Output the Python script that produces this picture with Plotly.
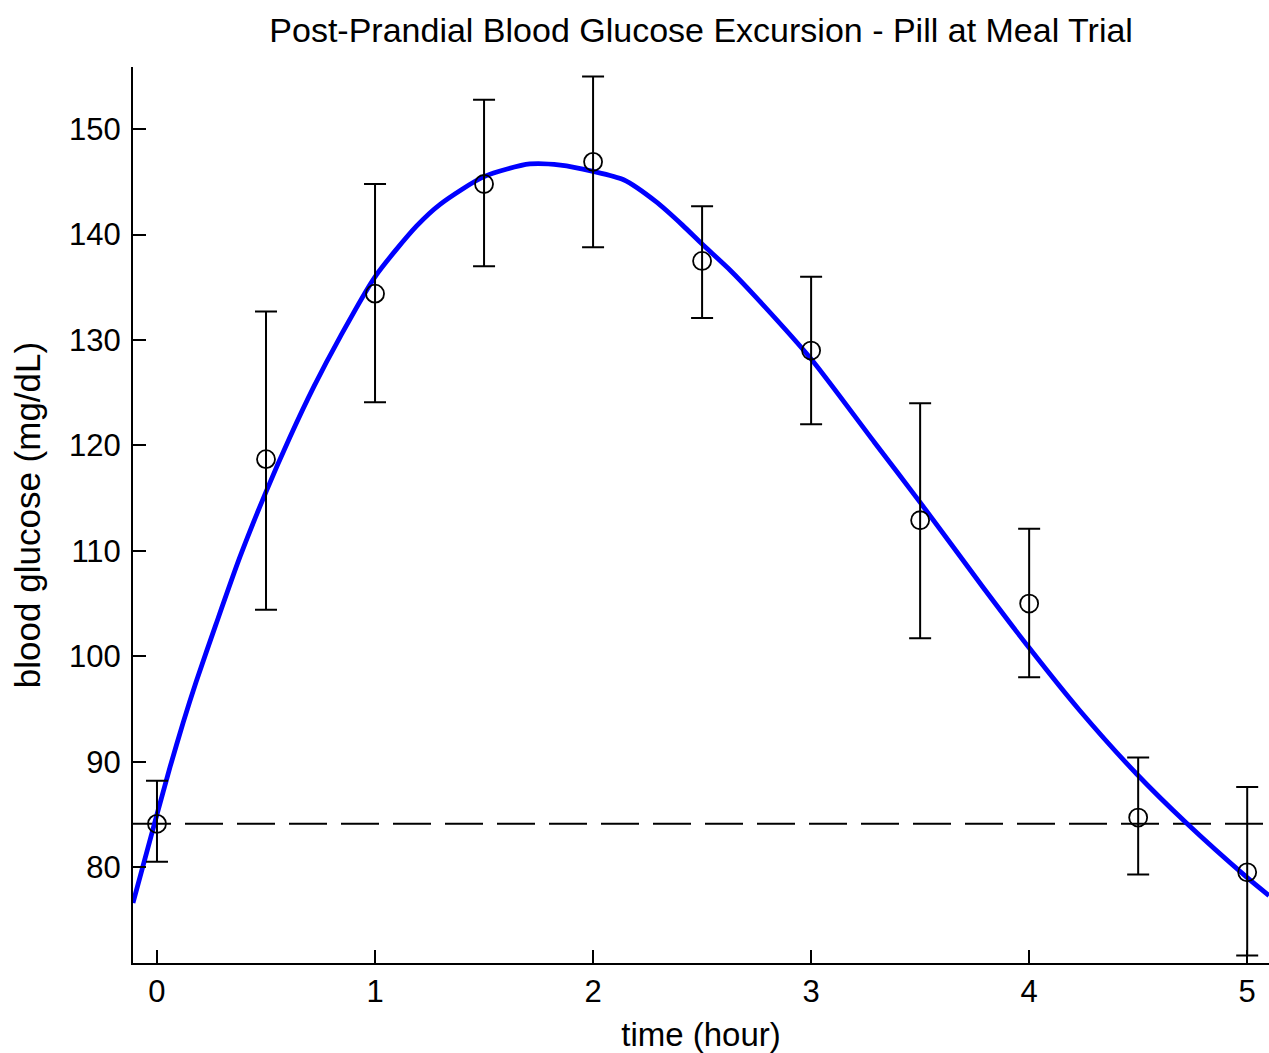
import plotly.graph_objects as go

# measured points (mean +/- error bar ends)
time_h = [0, 0.5, 1, 1.5, 2, 2.5, 3, 3.5, 4, 4.5, 5]
glucose_mean = [84.1, 118.7, 134.4, 144.8, 146.9, 137.5, 129.0, 112.9, 105.0, 84.7, 79.5]
glucose_hi = [88.2, 132.7, 144.8, 152.8, 155.0, 142.7, 136.0, 124.0, 112.1, 90.4, 87.6]
glucose_lo = [80.5, 104.4, 124.1, 137.0, 138.8, 132.1, 122.0, 101.7, 98.0, 79.3, 71.6]

# fitted model curve
fit_t = [-0.11, 0.0, 0.06, 0.12, 0.18, 0.27, 0.38, 0.5, 0.61, 0.72, 0.84, 1.0, 1.19,
         1.3, 1.5, 1.71, 1.85, 2.0, 2.14, 2.29, 2.41, 2.5, 2.63, 2.75, 3.0, 3.29, 3.5,
         3.79, 4.0, 4.23, 4.49, 4.72, 5.0, 5.1]
fit_glucose = [76.6, 85.0, 89.5, 93.7, 97.6, 103.0, 109.4, 115.6, 120.8, 125.6, 130.3,
               136.0, 140.8, 142.9, 145.5, 146.7, 146.6, 146.0, 145.2, 143.1, 140.9,
               139.1, 136.6, 134.0, 128.2, 120.3, 114.6, 106.5, 100.8, 94.9, 88.9,
               84.2, 79.0, 77.3]

baseline = glucose_mean[0]

x_ticks = [0, 1, 2, 3, 4, 5]
y_ticks = [80, 90, 100, 110, 120, 130, 140, 150]

err_plus = [h - m for h, m in zip(glucose_hi, glucose_mean)]
err_minus = [m - l for m, l in zip(glucose_mean, glucose_lo)]

fig = go.Figure()

fig.add_shape(type="line", xref="paper", x0=0, x1=1, yref="y", y0=baseline, y1=baseline,
              line=dict(color="black", width=2, dash="38px,14px"), layer="below")

fig.add_trace(go.Scatter(
    x=fit_t, y=fit_glucose, mode="lines",
    line=dict(color="#0000ff", width=4.8, shape="spline", smoothing=0.7),
    hoverinfo="skip",
))

fig.add_trace(go.Scatter(
    x=time_h, y=glucose_mean, mode="markers",
    marker=dict(symbol="circle-open", size=18, color="black", line=dict(width=1.8)),
    error_y=dict(type="data", symmetric=False, array=err_plus, arrayminus=err_minus,
                 color="black", thickness=2, width=11),
))

fig.update_layout(
    width=1269, height=1053,
    margin=dict(l=133, r=0, t=67, b=90, autoexpand=False),
    paper_bgcolor="white", plot_bgcolor="white",
    showlegend=False,
    font=dict(family="Liberation Sans, Arial, sans-serif", color="black", size=31),
    title=dict(text="Post-Prandial Blood Glucose Excursion - Pill at Meal Trial",
               x=0.5525, xanchor="center", y=1 - 30 / 1053, yanchor="middle",
               font=dict(size=34)),
)

axis_style = dict(showgrid=False, zeroline=False, showline=True, linecolor="black",
                  linewidth=2, ticks="inside", ticklen=13, tickwidth=2, tickcolor="black",
                  mirror=False, automargin=False)

fig.update_xaxes(range=[-0.11, 5.1], tickvals=x_ticks,
                 title=dict(text="time (hour)", standoff=15, font=dict(size=33)),
                 **axis_style)
fig.update_yaxes(range=[70.9, 155.9], tickvals=y_ticks, ticklabelstandoff=4,
                 title=dict(text="blood glucose (mg/dL)", standoff=18, font=dict(size=35)),
                 **axis_style)

# the page body has a default 8px margin; drop it so the figure sits at the corner
fig.write_html("out.html", config={"displayModeBar": False},
               post_script="document.body.style.margin='0px';")
